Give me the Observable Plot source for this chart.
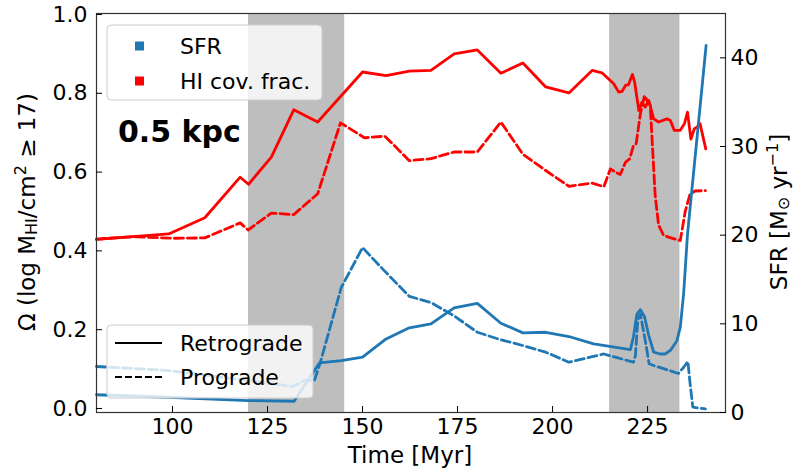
<!DOCTYPE html>
<html>
<head>
<meta charset="utf-8">
<script src="https://cdn.jsdelivr.net/npm/d3@7"></script>
<script src="https://cdn.jsdelivr.net/npm/@observablehq/plot@0.6"></script>
<style>
  html, body { margin: 0; padding: 0; background: #fff; }
  #chart svg { font-family: "DejaVu Sans", sans-serif; }
</style>
</head>
<body>
<div id="chart"></div>
<script>
// ---- Data ----
const xTicks = [100, 125, 150, 175, 200, 225];
const leftTicks = [0, 0.2, 0.4, 0.6, 0.8, 1.0];
const rightTicks = [0, 10, 20, 30, 40];
const shadedStart = [120, 215];
const shadedEnd = [145.3, 233.5];

// HI covering fraction, retrograde (solid red)
const hiRetT = [80, 99, 108.5, 117.8, 120, 126, 131.9, 138.2, 150, 156.2, 162.3, 168, 174.1, 180.2, 186.4, 192.2, 198.2, 204.3, 210.4, 213, 216.1, 217.4, 218.3, 219.2, 220, 221, 221.6, 222.7, 223.5, 224.4, 225.3, 226.6, 227.9, 230.1, 231, 232, 233.6, 234.7, 235.5, 236.4, 237.3, 238, 238.8, 240.3];
const hiRetV = [0.429, 0.443, 0.484, 0.587, 0.569, 0.638, 0.758, 0.727, 0.854, 0.845, 0.856, 0.858, 0.900, 0.910, 0.851, 0.877, 0.816, 0.801, 0.858, 0.852, 0.824, 0.803, 0.805, 0.820, 0.822, 0.848, 0.828, 0.756, 0.777, 0.765, 0.782, 0.735, 0.727, 0.735, 0.731, 0.706, 0.706, 0.723, 0.752, 0.684, 0.710, 0.714, 0.723, 0.659];

// HI covering fraction, prograde (dashed red)
const hiProT = [80, 90, 100, 108.5, 117.8, 119.9, 126, 131.9, 138.2, 144.2, 150.5, 155.9, 162.3, 168, 174.1, 180.2, 186.4, 192.2, 198.2, 204.3, 210.4, 213.5, 215.2, 216.5, 217.8, 219.2, 220.3, 221.3, 222, 223.1, 224.2, 225.1, 225.7, 226.2, 227, 227.9, 229.2, 230.5, 231.8, 233.6, 234.9, 236.2, 237.5, 240.2];
const hiProV = [0.430, 0.436, 0.432, 0.433, 0.471, 0.453, 0.496, 0.492, 0.545, 0.725, 0.687, 0.691, 0.629, 0.634, 0.651, 0.651, 0.727, 0.645, 0.604, 0.564, 0.572, 0.563, 0.608, 0.600, 0.594, 0.625, 0.634, 0.668, 0.672, 0.748, 0.794, 0.777, 0.770, 0.680, 0.540, 0.465, 0.440, 0.435, 0.431, 0.426, 0.500, 0.545, 0.552, 0.553];

// SFR, retrograde (solid blue) in Msun/yr
const sfrRetT = [80, 99, 119.9, 132, 138.7, 144.4, 150, 156.2, 162.3, 168, 174.1, 180.2, 186.4, 192.2, 198.2, 204.3, 210.8, 220.5, 221.3, 222.2, 223.1, 224.2, 225.3, 226.6, 228.3, 229.6, 231, 232.7, 233.6, 234.5, 235.5, 240.4];
const sfrRetV = [2.0, 1.72, 1.35, 1.27, 5.6, 5.86, 6.24, 8.3, 9.55, 10.0, 11.8, 12.3, 10.07, 8.98, 9.05, 8.57, 7.74, 7.1, 8.6, 11.1, 11.6, 10.8, 8.7, 6.8, 6.6, 6.6, 7.0, 8.1, 9.6, 13.5, 20.1, 41.4];

// SFR, prograde (dashed blue)
const sfrProT = [80, 99, 120, 131.7, 134.7, 137.3, 138.8, 144.4, 150, 155.7, 162.3, 168, 174.1, 180.2, 186.4, 192.2, 198.2, 204.3, 213.5, 221.3, 221.8, 222.4, 223.1, 224.4, 225.4, 226.6, 233.1, 234.5, 235.6, 236.2, 236.9, 240.2];
const sfrProV = [5.19, 4.73, 3.6, 2.93, 3.6, 3.6, 5.5, 14.1, 18.6, 16.0, 13.1, 12.4, 10.9, 9.05, 8.2, 7.55, 6.8, 5.67, 6.6, 5.67, 6.4, 10.4, 11.1, 8.1, 5.5, 5.3, 4.4, 5.1, 5.75, 3.2, 0.6, 0.4];

// ---- Build tables ----
const zip = (t, v) => t.map((d, i) => ({t: d, v: v[i]}));
const hiRet = zip(hiRetT, hiRetV);
const hiPro = zip(hiProT, hiProV);
const sfrRet = zip(sfrRetT, sfrRetV);
const sfrPro = zip(sfrProT, sfrProV);
const spans = shadedStart.map((s, i) => ({x1: s, x2: shadedEnd[i]}));

const yDomain = [-0.0102, 1.0025];
const sfrDomain = [0, 45];
const toLeft = d3.scaleLinear().domain(sfrDomain).range(yDomain);

const RED = "#ff0000";
const BLUE = "#1f77b4";
const LW = 2.8;

const svg = Plot.plot({
  width: 793,
  height: 470,
  marginLeft: 96,
  marginRight: 68,
  marginTop: 13,
  marginBottom: 58,
  style: {fontFamily: "DejaVu Sans, sans-serif", background: "#fff", color: "#000"},
  x: {domain: [80, 245.5]},
  y: {domain: yDomain},
  marks: [
    Plot.rect(spans, {x1: "x1", x2: "x2", y1: yDomain[0], y2: yDomain[1], fill: "#bebebe"}),
    Plot.line(hiRet, {x: "t", y: "v", stroke: RED, strokeWidth: LW}),
    Plot.line(hiPro, {x: "t", y: "v", stroke: RED, strokeWidth: LW, strokeDasharray: "9,4"}),
    Plot.line(sfrRet, {x: "t", y: d => toLeft(d.v), stroke: BLUE, strokeWidth: LW}),
    Plot.line(sfrPro, {x: "t", y: d => toLeft(d.v), stroke: BLUE, strokeWidth: LW, strokeDasharray: "9,4"}),
    Plot.frame({stroke: "#333", strokeWidth: 1.2}),
    Plot.axisX(xTicks, {anchor: "bottom", tickSize: -6, tickPadding: 12, fontSize: 22, label: null, tickFormat: d => String(d)}),
    Plot.axisY(leftTicks, {anchor: "left", tickSize: -6, tickPadding: 15, fontSize: 22, label: null, tickFormat: d3.format(".1f")}),
    Plot.axisY(rightTicks.map(toLeft), {anchor: "right", tickSize: -6, tickPadding: 11, fontSize: 22, label: null, tickFormat: d => String(Math.round(toLeft.invert(d)))})
  ]
});

const s = d3.select(svg);
const FONT = "DejaVu Sans, sans-serif";
const addText = (x, y, size, str) => s.append("text").attr("x", x).attr("y", y)
  .attr("text-anchor", "start").attr("dominant-baseline", "central")
  .attr("font-size", size).attr("font-family", FONT).attr("fill", "#000").text(str);

// Axis labels
s.append("text").attr("x", 410).attr("y", 455).attr("text-anchor", "middle")
  .attr("dominant-baseline", "central").attr("font-size", 23).attr("font-family", FONT).attr("fill", "#000")
  .text("Time [Myr]");

const yl = s.append("text").attr("transform", "translate(27,212) rotate(-90)")
  .attr("text-anchor", "middle").attr("dominant-baseline", "central")
  .attr("font-size", 23).attr("font-family", FONT).attr("fill", "#000");
yl.append("tspan").text("Ω (log M");
yl.append("tspan").attr("baseline-shift", "-25%").attr("font-size", 16).text("HI");
yl.append("tspan").text("/cm");
yl.append("tspan").attr("baseline-shift", "40%").attr("font-size", 16).text("2");
yl.append("tspan").text(" ≥ 17)");

const yr = s.append("text").attr("transform", "translate(779,212) rotate(-90)")
  .attr("text-anchor", "middle").attr("dominant-baseline", "central")
  .attr("font-size", 23).attr("font-family", FONT).attr("fill", "#000");
yr.append("tspan").text("SFR [M");
yr.append("tspan").attr("baseline-shift", "-25%").attr("font-size", 16).text("⊙");
yr.append("tspan").text(" yr");
yr.append("tspan").attr("baseline-shift", "40%").attr("font-size", 16).text("−1");
yr.append("tspan").text("]");

// Annotation
s.append("text").attr("x", 118).attr("y", 142).attr("text-anchor", "start")
  .attr("font-size", 30).attr("font-weight", "bold")
  .attr("font-family", FONT).attr("fill", "#000").text("0.5 kpc");

// Upper legend
s.append("rect").attr("x", 107).attr("y", 25).attr("width", 215).attr("height", 75).attr("rx", 4)
  .attr("fill", "#fff").attr("fill-opacity", 0.8).attr("stroke", "#cccccc");
const legA = [{label: "SFR", color: BLUE, y: 46}, {label: "HI cov. frac.", color: RED, y: 81}];
legA.forEach(d => {
  s.append("rect").attr("x", 135).attr("y", d.y - 4.5).attr("width", 9).attr("height", 9).attr("fill", d.color);
  addText(180, d.y, 22, d.label);
});

// Lower legend
s.append("rect").attr("x", 107).attr("y", 325).attr("width", 206).attr("height", 73).attr("rx", 4)
  .attr("fill", "#fff").attr("fill-opacity", 0.8).attr("stroke", "#cccccc");
const legB = [{label: "Retrograde", dash: null, y: 343}, {label: "Prograde", dash: "7,3", y: 377}];
legB.forEach(d => {
  const l = s.append("line").attr("x1", 115).attr("x2", 162).attr("y1", d.y).attr("y2", d.y)
    .attr("stroke", "#000").attr("stroke-width", 2);
  if (d.dash) l.attr("stroke-dasharray", d.dash);
  addText(180, d.y, 22, d.label);
});

document.getElementById("chart").appendChild(svg);
</script>
</body>
</html>
